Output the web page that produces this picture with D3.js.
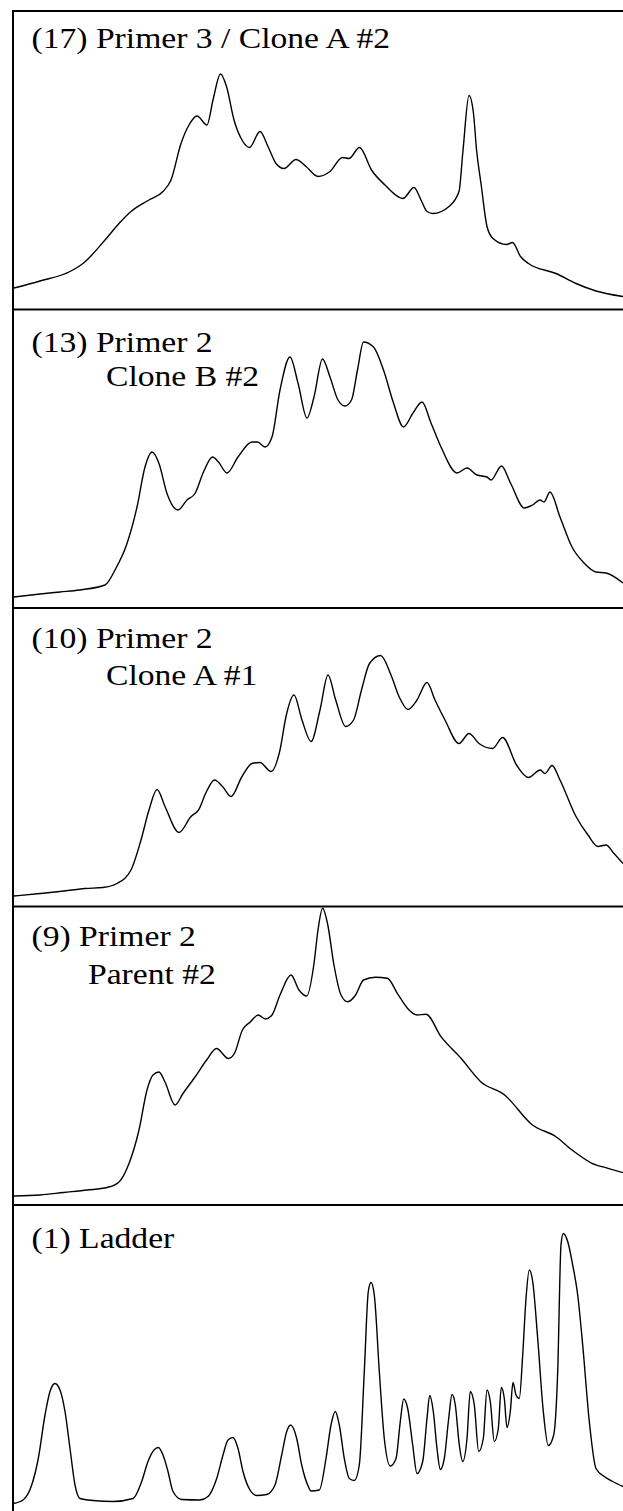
<!DOCTYPE html>
<html>
<head>
<meta charset="utf-8">
<script src="https://cdn.jsdelivr.net/npm/d3@7"></script>
<style>
  html, body { margin: 0; padding: 0; background: #fff; }
  #main svg { display: block; }
  #main text { font-family: 'Liberation Serif', 'Times New Roman', Times, serif; }
</style>
</head>
<body>
<div id="main"></div>
<script>
// lane traces: [scan position, signal]
var lane17 = [
  [1, 21.5], [27, 28.5], [57, 38], [70, 46], [92, 69.5], [106, 86], [118, 98], [136, 109.5],
  [150, 118], [158, 129.5], [168, 166], [176, 184.5], [184, 193.5], [194, 184.5], [200, 209.5],
  [207.5, 235.5], [213.5, 223], [221, 189.5], [229, 169.5], [236.5, 162], [247, 178], [255, 163],
  [263, 146], [271, 141], [283, 150], [293, 143], [305, 133], [317, 138], [329.5, 152], [336, 151],
  [346.5, 162], [358.5, 139.5], [372, 124.5], [390, 111], [401, 122], [408, 109.5], [414, 98],
  [420, 96], [436, 103], [446, 118], [450, 159], [456, 214], [460.5, 196], [463.5, 160],
  [468, 126], [474, 83], [480, 71], [493.5, 65], [499.5, 67], [507.5, 53], [515.5, 46],
  [543, 36], [563, 26], [583, 18.5], [610, 13]
];

var lane13 = [
  [1, 11], [27, 14], [47, 16], [66.5, 18], [92, 23], [102, 38], [114, 64.5], [124, 101],
  [132, 141], [139, 156], [146, 144.5], [154, 114.5], [165, 98], [174, 108], [182, 114.5],
  [190.5, 136], [199.5, 151], [205.5, 146], [214, 135], [225, 151], [239, 166], [244.5, 166],
  [252, 161], [259, 171], [267, 218], [277, 251], [285, 225], [294, 190], [301, 211],
  [309.5, 249], [317, 231], [325, 208], [332, 202], [338.5, 208], [344.5, 238], [350.5, 266],
  [360.5, 261], [370.5, 238], [380.5, 205], [390.5, 181], [400, 195], [409, 206], [418, 185],
  [428, 161], [444, 135], [454, 140], [464, 133], [474, 131], [478, 128], [488.5, 142],
  [497.5, 125], [511.5, 100], [519.5, 103], [527, 108], [531, 106], [537, 116], [547, 91],
  [559, 61], [571, 45], [583, 36], [593, 35], [610, 25]
];

var lane10 = [
  [1, 10.5], [27, 13], [46.6, 15], [72, 18], [90, 19], [104, 23], [118, 36.5], [128, 66.5],
  [136, 96.5], [144, 117], [152, 100], [166, 74], [178, 90], [185.5, 96.5], [193.5, 115],
  [201.5, 126.5], [209.5, 120], [218, 110], [229, 130], [239, 143], [247, 144], [258, 135],
  [267, 156.5], [273, 190], [281, 211.5], [289, 186.5], [298, 165], [307, 196.5], [315, 231.5],
  [322.7, 206.5], [332.6, 180], [340.6, 186.5], [348.5, 216.5], [356.5, 243], [367.6, 251],
  [378, 231.5], [386, 210], [395, 197], [404, 206.5], [414, 224], [422, 206.5], [432, 186.5],
  [446, 163], [456, 173], [466, 163], [479.6, 158], [489.6, 169], [503.5, 141.5], [515.4, 129],
  [527.3, 136.5], [532, 133], [539, 141], [547, 126.5], [563, 90], [575, 71.5], [585, 60],
  [593, 61.5], [601, 53], [610, 43]
];

var lane9 = [
  [1, 9], [27, 10], [50.6, 12.5], [74.4, 15], [94, 17.5], [106, 23], [116, 41.5], [126, 75],
  [134, 115], [140, 130], [146, 133], [152, 123], [162, 100], [170, 111.5], [182, 128],
  [193.6, 145], [203.5, 156.5], [215.4, 146.5], [221.4, 151.5], [229.4, 175], [237.3, 183],
  [245.2, 190], [252.4, 186], [259, 190], [267, 210], [278, 230], [286, 215], [293.7, 209],
  [301, 241.5], [305, 275], [309.6, 296.7], [314.8, 280], [320.7, 241.5], [328, 210],
  [334.6, 203.3], [342.6, 210], [350.5, 225], [362.4, 227.7], [374.4, 226.7], [384.3, 211.7],
  [396, 195], [404, 190], [413, 190.7], [428, 168.3], [448, 146.7], [467.7, 123.3], [491.6, 110],
  [519.4, 80], [543, 68.3], [559, 55], [579, 41.7], [595, 36.7], [610, 32.3]
];

var lane1 = [
  [0.3, 0], [10, 3.5], [18.7, 18.5], [25.3, 45], [32, 88.5], [37, 112], [42, 120], [47, 113.5],
  [52, 92], [57, 55], [62, 18.5], [67, 5], [80, 3], [100, 2], [120, 5], [128.7, 22], [135, 42],
  [141, 53.5], [145.3, 56], [150, 48.5], [155, 32], [160, 12], [168.7, 4], [187, 3.5], [195, 7],
  [203.7, 25], [210, 48.5], [215, 63.5], [220, 66], [225, 55], [230, 32], [237, 13.5],
  [243.7, 8], [253.7, 9], [262, 18.5], [268.7, 48.5], [273.7, 72], [277.7, 78.5], [283.7, 65],
  [288.7, 38.5], [295.3, 17], [298, 12.5], [306.3, 13.5], [313, 45], [318, 78.5], [322.3, 92],
  [326.3, 78.5], [331.3, 45], [336.3, 25], [341.3, 23], [346.3, 38.5], [351.3, 132], [355.3, 212],
  [358, 221], [361.3, 208.5], [366.3, 132], [371.3, 65], [377.3, 37.5], [383, 45], [387.3, 82],
  [390.7, 104.5], [394.7, 95], [399.7, 58.5], [404, 30], [409.7, 42], [414, 85], [416.7, 108],
  [420.3, 92], [424, 55], [427.3, 34], [431.3, 45], [435.7, 85], [439, 109], [442.3, 98.5],
  [446.3, 58.5], [449.7, 42], [454, 65], [457.3, 112], [461.3, 98.5], [465.7, 52], [470.3, 65],
  [474, 113.5], [477.3, 102], [481.3, 62], [485.3, 75], [488.3, 116], [491.3, 105], [494, 76],
  [497.3, 92], [500, 121], [503, 108.5], [506.3, 105], [509.7, 148.5], [513, 205], [516.3, 233.5],
  [519.7, 222], [524.7, 165], [530.3, 92], [535.3, 58], [540.7, 68.5], [544.7, 132], [548, 258.5],
  [550.3, 270], [554.7, 262], [559.7, 238.5], [564.7, 208.5], [569.7, 158.5], [576.3, 82],
  [583, 35], [591.3, 27], [599.7, 22], [610, 17]
];

var lanes = [lane17, lane13, lane10, lane9, lane1];

var laneLabels = [
  ["(17) Primer 3 / Clone A #2"],
  ["(13) Primer 2", "Clone B #2"],
  ["(10) Primer 2", "Clone A #1"],
  ["(9) Primer 2", "Parent #2"],
  ["(1) Ladder"]
];

var Electropherogram = function() {
  var width = 623,
      height = 1511,
      left = 13,
      top = 11,
      panelHeight = 298.5,
      scanMax = 610,
      signalMax = 298.5;

  // label layout: indent of each line and its baseline below the panel top
  var indent = [[0], [0, 74.5], [0, 74.5], [0, 56.5], [0]];
  var baseline = [[37], [42, 76], [40, 77], [39, 77], [43]];

  var me = function(container) {
    var svg = container.append('svg')
        .attr('width', width)
        .attr('height', height);

    var x = d3.scaleLinear().domain([0, scanMax]).range([left, width]);

    var line = d3.line()
        .x(function(d) { return x(d[0]); })
        .curve(d3.curveMonotoneX);

    var panels = svg.selectAll('g.lane').data(lanes)
      .enter().append('g')
        .attr('class', 'lane');

    panels.each(function(trace, i) {
      var g = d3.select(this);
      var y0 = top + i * panelHeight;
      var y = d3.scaleLinear().domain([0, signalMax]).range([y0 + panelHeight, y0]);

      g.append('line')
          .attr('x1', left).attr('x2', width)
          .attr('y1', y0).attr('y2', y0)
          .attr('stroke', '#000')
          .attr('stroke-width', 2);

      g.append('path')
          .datum(trace)
          .attr('d', line.y(function(d) { return y(d[1]); }))
          .attr('fill', 'none')
          .attr('stroke', '#000')
          .attr('stroke-width', 1.4)
          .attr('stroke-linejoin', 'round');

      g.selectAll('text').data(laneLabels[i])
        .enter().append('text')
          .attr('transform', function(d, j) {
            return 'translate(' + (31.5 + indent[i][j]) + ',' + (y0 + baseline[i][j]) + ') scale(1.18,1)';
          })
          .attr('font-size', 28.5)
          .attr('fill', '#000')
          .text(function(d) { return d; });
    });

    // left frame edge runs the full height
    svg.append('line')
        .attr('x1', left).attr('x2', left)
        .attr('y1', top - 1).attr('y2', height)
        .attr('stroke', '#000')
        .attr('stroke-width', 2);
  };

  return me;
};

d3.select('#main').call(Electropherogram());
</script>
</body>
</html>
